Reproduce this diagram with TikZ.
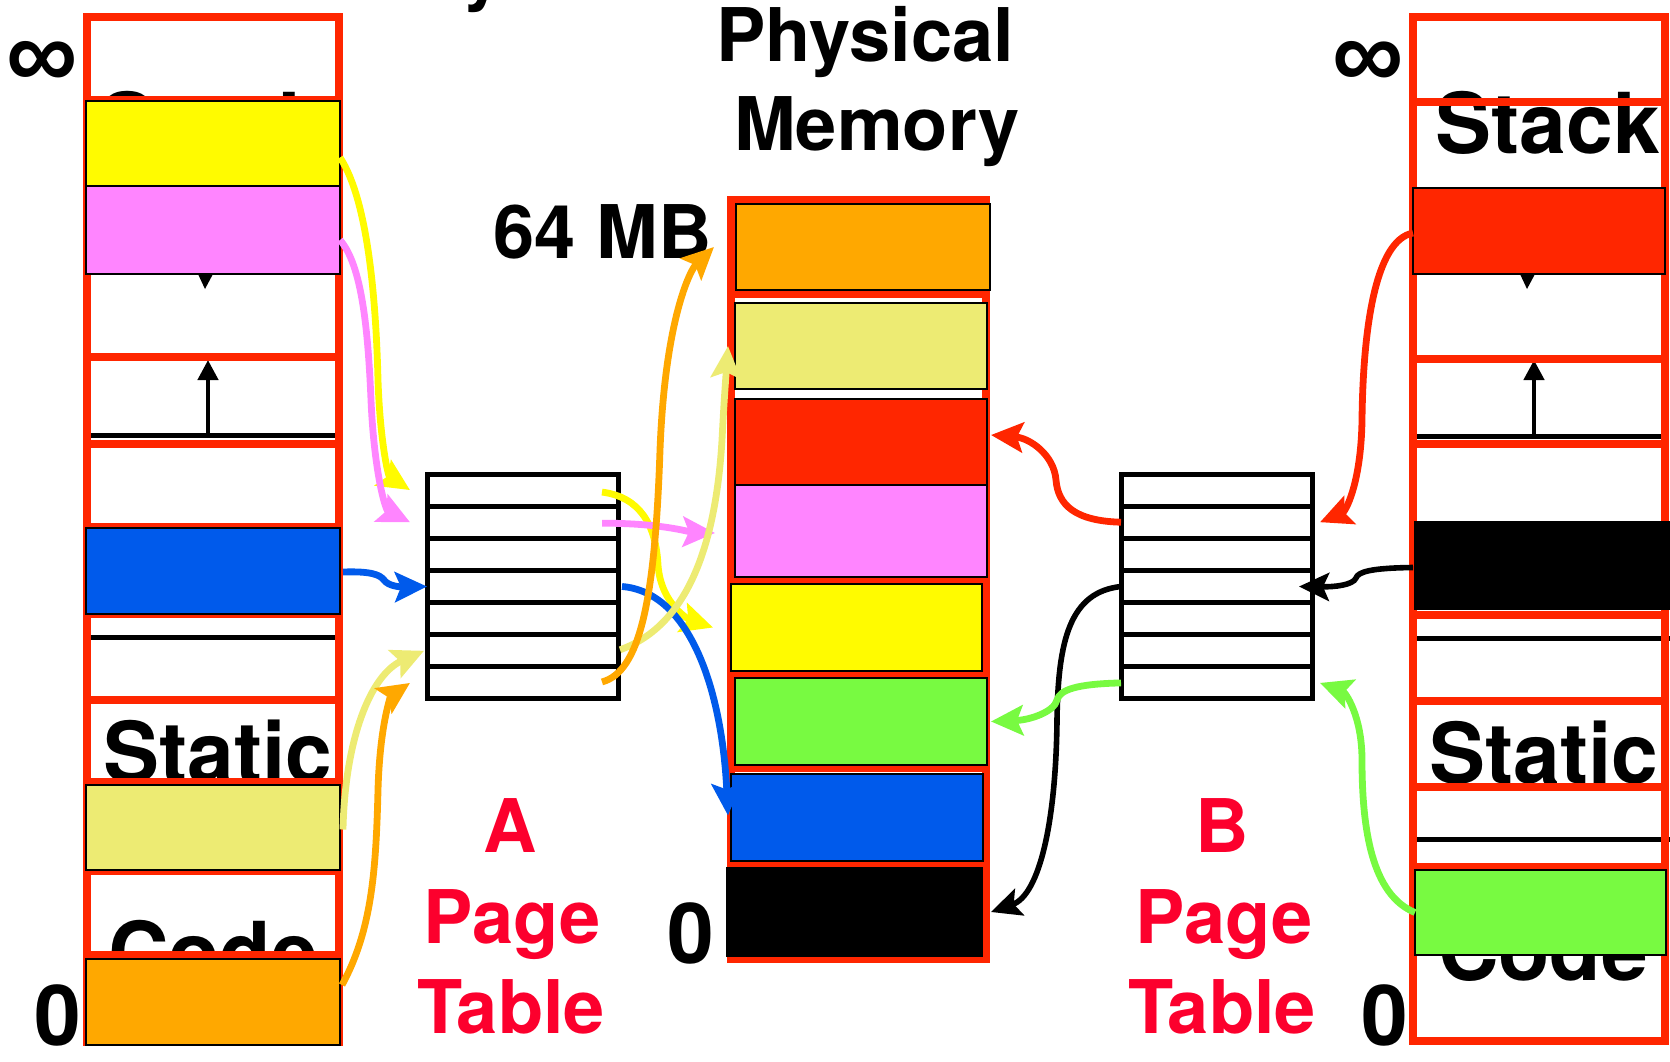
\documentclass[tikz,border=0pt]{standalone}
\usepackage{fontspec}
\setmainfont{TeX Gyre Heros}
\newfontfamily\inffont{Liberation Sans}
\usetikzlibrary{arrows.meta,calc}
\definecolor{kred}{RGB}{255,38,0}
\definecolor{kyellow}{RGB}{255,251,0}
\definecolor{kpink}{RGB}{255,133,255}
\definecolor{kblue}{RGB}{0,90,235}
\definecolor{kkhaki}{RGB}{237,235,115}
\definecolor{korange}{RGB}{255,168,0}
\definecolor{kgreen}{RGB}{120,250,65}
\definecolor{lblred}{RGB}{252,0,45}
\tikzset{
  sep/.style={draw=kred, line width=4pt},
  blk/.style={draw=black, line width=1.2pt, inner sep=0pt, outer sep=0pt, anchor=north west},
  ptrow/.style={draw=black, line width=2.5pt, fill=white, inner sep=0pt, outer sep=0pt, anchor=north west, minimum width=95.5pt, minimum height=16.07pt},
  conn/.style={line width=3.4pt, -{Stealth[length=16pt,width=15pt,inset=3pt]}},
  bconn/.style={line width=2.8pt, -{Stealth[length=15pt,width=14pt,inset=3pt]}},
  big/.style={font=\fontsize{42}{48}\selectfont\bfseries, inner sep=0pt, anchor=base},
  lbl/.style={font=\fontsize{37}{44}\selectfont\bfseries, inner sep=0pt, anchor=base},
  rlbl/.style={lbl, text=lblred},
  inf/.style={font=\inffont\bfseries\fontsize{50}{56}\selectfont, inner sep=0pt, anchor=base},
  uparr/.style={line width=2.2pt, -{Triangle[length=10pt,width=10pt]}},
  hline/.style={line width=2.5pt, black}
}
\begin{document}
\begin{tikzpicture}[x=0.5pt,y=-0.5pt]
\useasboundingbox (0,0) rectangle (1670,1061);
\clip (0,0) rectangle (1670,1061);

% fragment of a title letter at the top edge
\node[lbl] (frag) at (483,-4) {y};

% ---------- left address space (A) ----------
\fill[white] (87,17) rectangle (339,1042);
\node[big] (stackA) at (213,153) {Stack};
\node[big] (staticA) at (218,782) {Static};
\node[big] (codeA) at (213,982) {Code};
\draw[hline] (91,435) -- (335,435);
\draw[uparr] (208,435) -- (208,360);
\draw[hline] (91,637) -- (339,637);
\fill (198,274) -- (213,274) -- (205,289) -- cycle;
\foreach \yy in {100,357,444,527,614,700,782,871,955}
  \draw[sep] (87,\yy) -- (339,\yy);
\draw[draw=kred, line width=4pt] (87,17) rectangle (339,1042);

\node[blk, fill=kyellow, minimum width=127pt, minimum height=42.5pt] (yA) at (86,101) {};
\node[blk, fill=kpink, minimum width=127pt, minimum height=44pt] (pA) at (86,186) {};
\node[blk, fill=kblue, minimum width=127pt, minimum height=43pt] (bA) at (86,528) {};
\node[blk, fill=kkhaki, minimum width=127pt, minimum height=42.5pt] (kA) at (86,785) {};
\node[blk, fill=korange, minimum width=127pt, minimum height=43pt] (oA) at (86,959) {};

\node[inf] (infA) at (42,88) {∞};
\node[big] (zeroA) at (58,1045) {0};

% ---------- right address space (B) ----------
\fill[white] (1413,17) rectangle (1665,1041);
\node[big] (stackB) at (1548,153) {Stack};
\node[big] (staticB) at (1544,783) {Static};
\node[big] (codeB) at (1543,980) {Code};
\draw[hline] (1417,436) -- (1661,436);
\draw[uparr] (1534,436) -- (1534,360);
\draw[hline] (1417,638) -- (1670,638);
\draw[hline] (1417,839) -- (1670,839);
\fill (1520,274) -- (1535,274) -- (1527,289) -- cycle;
\foreach \yy in {102,359,444,527,615,701,787,867}
  \draw[sep] (1413,\yy) -- (1665,\yy);
\draw[draw=kred, line width=4pt] (1413,17) rectangle (1665,1041);

\node[blk, fill=kred, minimum width=126pt, minimum height=43pt] (rB) at (1413,188) {};
\node[blk, fill=black, minimum width=128pt, minimum height=43.5pt] (kB) at (1415,522) {};
\node[blk, fill=kgreen, minimum width=125.5pt, minimum height=42.5pt] (gB) at (1415,870) {};

\node[inf] (infB) at (1368,88) {∞};
\node[big] (zeroB) at (1385,1045) {0};

% ---------- physical memory ----------
\fill[white] (731,200) rectangle (986,959);
\foreach \yy in {294,580,674,768,865}
  \draw[sep] (731,\yy) -- (986,\yy);
\draw[draw=kred, line width=4pt] (731,200) rectangle (986,959);
\node[blk, fill=korange, minimum width=127pt, minimum height=43pt] (oP) at (736,204) {};
\node[blk, fill=kkhaki, minimum width=126pt, minimum height=43pt] (kP) at (735,303) {};
\node[blk, fill=kred, minimum width=126pt, minimum height=43pt] (rP) at (735,399) {};
\node[blk, fill=kpink, minimum width=126pt, minimum height=46pt] (pP) at (735,485) {};
\node[blk, fill=kyellow, minimum width=125.5pt, minimum height=43.5pt] (yP) at (731,584) {};
\node[blk, fill=kgreen, minimum width=126pt, minimum height=43.5pt] (gP) at (735,678) {};
\node[blk, fill=kblue, minimum width=126pt, minimum height=43.5pt] (bP) at (731,774) {};
\node[blk, fill=black, minimum width=127.5pt, minimum height=44pt] (kP0) at (727,868) {};

\node[lbl] (phys) at (865,61) {Physical};
\node[lbl] (mem) at (877,150) {Memory};
\node[lbl, anchor=base east] (mb) at (712,258) {64 MB};
\node[big] (zeroP) at (691,963) {0};

% ---------- page tables ----------
\foreach \i in {1,...,7}{
  \node[ptrow] (rowA\i) at (427,{474+(\i-1)*32.14}) {};
  \node[ptrow] (rowB\i) at (1121,{474+(\i-1)*32.14}) {};
}

\node[rlbl] (lA) at (510,852) {A};
\node[rlbl] (pgA) at (512,943) {Page};
\node[rlbl] (tbA) at (511,1033) {Table};
\node[rlbl] (lB) at (1222,852) {B};
\node[rlbl] (pgB) at (1224,943) {Page};
\node[rlbl] (tbB) at (1222,1033) {Table};

% ---------- connectors A ----------
\draw[conn, kyellow] ($(yA.east)+(0,14)$) .. controls (368,200) and (376,300) .. (378,380)
   .. controls (380,440) and (388,476) .. ($(rowA1.west)+(-17,0)$);
\draw[conn, kpink] ($(pA.east)+(0,10)$) .. controls (362,265) and (368,330) .. (371,400)
   .. controls (374,470) and (385,510) .. ($(rowA2.west)+(-17,0)$);
\draw[conn, kblue] ($(bA.east)+(3,1)$) .. controls (372,571) and (380,575) .. (384,580)
   .. controls (388,586) and (400,587) .. (rowA4.west);
\draw[conn, kkhaki] ($(kA.east)+(3,2)$) .. controls (345,740) and (370,675) .. ($(rowA6.west)+(-3,0)$);
\draw[conn, korange] ($(oA.east)+(2,-17)$) .. controls (372,930) and (376,870) .. (378,790)
   .. controls (380,720) and (392,695) .. ($(rowA7.west)+(-17,0)$);

\draw[conn, kyellow] ($(rowA1.east)+(-16,2)$) .. controls (640,497) and (656,525) .. (658,565)
   .. controls (661,605) and (690,620) .. ($(yP.west)+(-18,0)$);
\draw[conn, kpink] ($(rowA2.east)+(-16,1)$) .. controls (660,523) and (690,532) .. ($(pP.west)+(-20,2)$);
\draw[conn, kblue] ($(rowA4.east)+(4,0)$) .. controls (690,592) and (722,690) .. ($(bP.west)+(-3,-2)$);
\draw[conn, kkhaki] ($(rowA6.east)+(2,-1)$) .. controls (690,625) and (716,540) .. (722,440)
   .. controls (724,400) and (726,375) .. ($(kP.west)+(-7,0)$);
\draw[conn, korange] ($(rowA7.east)+(-16,-1)$) .. controls (640,672) and (655,600) .. (660,450)
   .. controls (665,320) and (690,270) .. ($(oP.west)+(-22,0)$);

% ---------- connectors B ----------
\draw[conn, kred] ($(rB.west)+(0,2)$) .. controls (1375,240) and (1363,330) .. (1362,420)
   .. controls (1361,485) and (1345,512) .. ($(rowB2.east)+(8,0)$);
\draw[conn, kred] (rowB2.west) .. controls (1075,521) and (1058,505) .. (1056,480)
   .. controls (1054,455) and (1030,438) .. ($(rP.east)+(4,-7)$);
\draw[bconn, black] ($(kB.west)+(-2,2)$) .. controls (1370,568) and (1358,572) .. (1356,578)
   .. controls (1353,585) and (1335,587) .. ($(rowB4.east)+(-13,0)$);
\draw[bconn, black] (rowB4.west) .. controls (1070,592) and (1058,640) .. (1057,720)
   .. controls (1056,820) and (1040,895) .. ($(kP0.east)+(9,0)$);
\draw[conn, kgreen] (rowB7.west) .. controls (1075,684) and (1060,690) .. (1057,700)
   .. controls (1054,712) and (1030,720) .. ($(gP.east)+(4,0)$);
\draw[conn, kgreen] (gB.west) .. controls (1372,895) and (1362,830) .. (1362,760)
   .. controls (1362,715) and (1345,692) .. ($(rowB7.east)+(8,0)$);
\end{tikzpicture}
\end{document}
